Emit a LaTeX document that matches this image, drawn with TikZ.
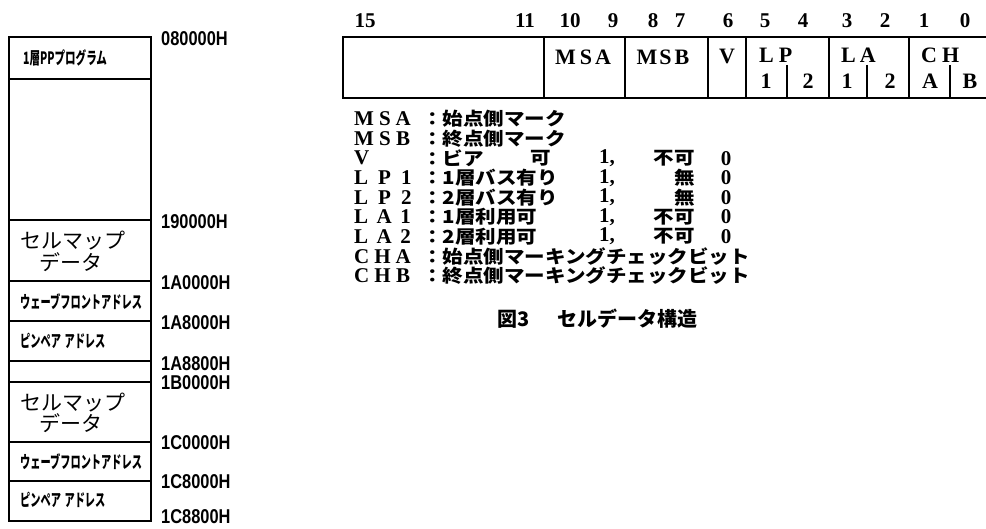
\documentclass[tikz,border=0pt]{standalone}
\usepackage{fontspec}
\usepackage{graphicx}
\setmainfont{Liberation Serif}
\newfontfamily\jpf{Noto Sans CJK JP}
\newfontfamily\jpwide[FakeStretch=1.14]{Noto Sans CJK JP}
\newfontfamily\addrf[FakeStretch=0.82]{Liberation Sans}
\begin{document}
\begin{tikzpicture}[x=1pt,y=-1pt,
  addr/.style={font=\addrf\bfseries\fontsize{20}{20}\selectfont, anchor=west, inner sep=0pt},
  bitnum/.style={font=\bfseries\fontsize{21}{21}\selectfont, inner sep=0pt},
  boxtxt/.style={font=\bfseries\fontsize{22}{22}\selectfont, inner sep=0pt},
  leglat/.style={font=\bfseries\fontsize{21}{21}\selectfont, anchor=west, inner sep=0pt},
  legjp/.style={font=\jpwide\bfseries\fontsize{18}{18}\selectfont, anchor=west, inner sep=0pt},
  legnum/.style={font=\bfseries\fontsize{21}{21}\selectfont, inner sep=0pt},
  memtxt/.style={font=\jpf\bfseries\fontsize{17}{17}\selectfont, anchor=west, inner sep=0pt},
  bigjp/.style={font=\jpf\fontsize{21}{21}\selectfont, anchor=west, inner sep=0pt},
  capjp/.style={font=\jpf\bfseries\fontsize{20}{20}\selectfont, anchor=west, inner sep=0pt},
  memline/.style={line width=2.4pt},
  bitline/.style={line width=2.4pt},
  subline/.style={line width=1.8pt}]
\path[use as bounding box] (0,0) rectangle (986,529);
\clip (0,0) rectangle (986,529);

% ---------------- memory map ----------------
\draw[memline, line width=2.8pt] (9,37) rectangle (151,521);
\foreach \yy in {79,220,281,321,361,382,442,481}
  \draw[memline] (9,\yy) -- (151,\yy);

\node[memtxt] (m1) at (23,58) {\scalebox{0.62}[1]{1層PPプログラム}};
\node[bigjp] (m2a) at (20,241) {セルマップ};
\node[bigjp] (m2b) at (39,262) {データ};
\node[memtxt] (m3) at (20,302) {\scalebox{0.6}[1]{ウェーブフロントアドレス}};
\node[memtxt] (m4) at (20,341) {\scalebox{0.6}[1]{ピンペア\kern6pt アドレス}};
\node[bigjp] (m5a) at (20,403) {セルマップ};
\node[bigjp] (m5b) at (39,423) {データ};
\node[memtxt] (m6) at (20,462) {\scalebox{0.6}[1]{ウェーブフロントアドレス}};
\node[memtxt] (m7) at (20,500) {\scalebox{0.6}[1]{ピンペア\kern6pt アドレス}};

\node[addr] (a1) at (161,39) {080000H};
\node[addr] (a2) at (161,222) {190000H};
\node[addr] (a3) at (161,283) {1A0000H};
\node[addr] (a4) at (161,323) {1A8000H};
\node[addr] (a5) at (161,364) {1A8800H};
\node[addr] (a6) at (161,383) {1B0000H};
\node[addr] (a7) at (161,443) {1C0000H};
\node[addr] (a8) at (161,482) {1C8000H};
\node[addr] (a9) at (161,517) {1C8800H};

% ---------------- bit layout ----------------
\draw[bitline] (990,37) -- (343,37) -- (343,98) -- (990,98);
\foreach \xx in {544,625,708,746,829,909}
  \draw[bitline] (\xx,37) -- (\xx,98);
\foreach \xx in {787,867,950}
  \draw[subline] (\xx,65) -- (\xx,98);

\foreach \n/\xx in {15/365,11/525,10/570,9/613,8/653,7/680,6/728,5/765,4/803,3/847,2/885,1/924,0/965}
  \node[bitnum] (b\n) at (\xx,21) {\n};

\node[boxtxt] (fmsa) at (583,57) {M\kern4pt S\kern3pt A};
\node[boxtxt] (fmsb) at (663,57) {M\kern2pt S\kern3pt B};
\node[boxtxt] (fv) at (727,56) {V};
\node[boxtxt, anchor=west] (flp) at (759,55) {L\kern5pt P};
\node[boxtxt] (flp1) at (766,81) {1};
\node[boxtxt] (flp2) at (808,81) {2};
\node[boxtxt, anchor=west] (fla) at (841,55) {L\kern4pt A};
\node[boxtxt] (fla1) at (847,81) {1};
\node[boxtxt] (fla2) at (890,81) {2};
\node[boxtxt, anchor=west] (fch) at (921,55) {C\kern5pt H};
\node[boxtxt] (fcha) at (930,81) {A};
\node[boxtxt] (fchb) at (970,81) {B};

% ---------------- legend ----------------
\foreach \i/\lab/\txt in {
  0/{M\kern5pt S\kern5pt A}/{：始点側マーク},
  1/{M\kern5pt S\kern5.5pt B}/{：終点側マーク},
  2/{V}/{：ビア},
  3/{L\kern10pt P\kern10pt 1}/{：1層バス有り},
  4/{L\kern10pt P\kern10pt 2}/{：2層バス有り},
  5/{L\kern8.5pt A\kern8.5pt 1}/{：1層利用可},
  6/{L\kern8.5pt A\kern8.5pt 2}/{：2層利用可},
  7/{C\kern5pt H\kern5pt A}/{：始点側マーキングチェックビット},
  8/{C\kern5pt H\kern5.5pt B}/{：終点側マーキングチェックビット}}
{
  \node[leglat] (l\i) at (354,119+19.6*\i) {\lab};
  \node[legjp] (t\i) at (422,119+19.6*\i) {\txt};
}
\node[legjp, anchor=center] (vka) at (541,158.2) {可};
\foreach \i/\w in {2/不可,3/無,4/無,5/不可,6/不可}
{
  \node[legnum] (one\i) at (607,119+19.6*\i) {1,};
  \node[legjp, anchor=east] (w\i) at (695,119+19.6*\i) {\w};
  \node[legnum] (z\i) at (726,119+19.6*\i) {0};
}

\node[capjp] (cap1) at (497,319) {図3};
\node[capjp] (cap2) at (557,319) {セルデータ構造};
\end{tikzpicture}
\end{document}
